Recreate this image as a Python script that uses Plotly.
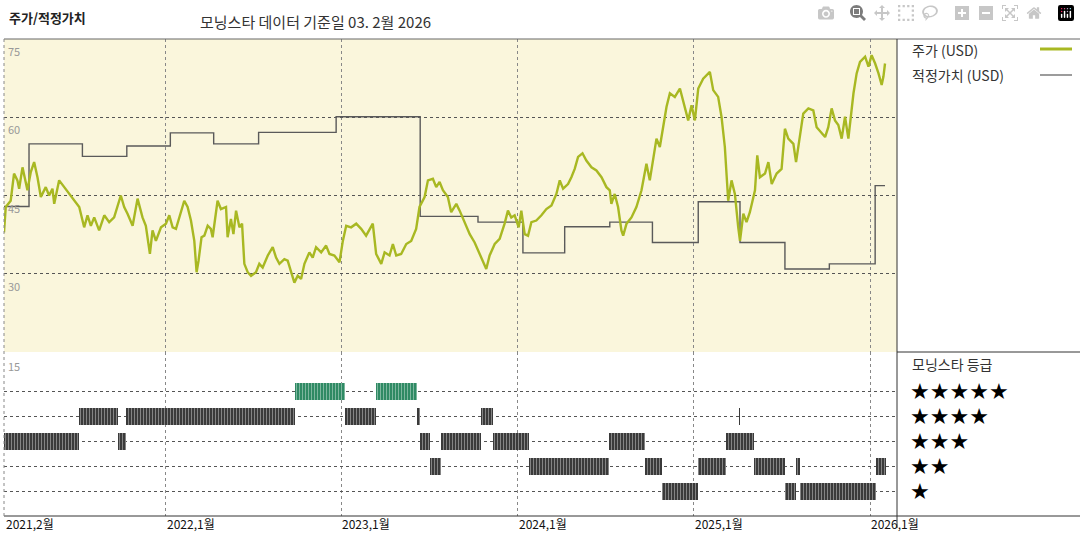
import plotly.graph_objects as go

# ---- data ----
price_t = [2021.085,2021.095,2021.123,2021.142,2021.161,2021.171,2021.190,2021.208,2021.218,2021.237,2021.256,2021.275,2021.294,2021.322,2021.341,2021.360,2021.370,2021.398,2021.426,2021.464,2021.512,2021.540,2021.559,2021.578,2021.597,2021.625,2021.654,2021.682,2021.710,2021.748,2021.767,2021.786,2021.815,2021.843,2021.871,2021.890,2021.913,2021.928,2021.947,2021.976,2022.004,2022.023,2022.042,2022.061,2022.089,2022.108,2022.127,2022.146,2022.165,2022.178,2022.189,2022.206,2022.222,2022.241,2022.259,2022.269,2022.297,2022.316,2022.345,
 2022.354,2022.373,2022.387,2022.402,2022.421,2022.436,2022.449,2022.468,2022.487,2022.515,2022.534,2022.553,2022.582,2022.610,2022.629,2022.648,2022.676,2022.695,2022.714,2022.733,2022.752,2022.771,2022.790,2022.818,2022.837,2022.856,2022.885,2022.913,2022.932,2022.960,2022.989,2023.008,2023.027,2023.055,2023.084,2023.112,2023.140,2023.178,2023.197,2023.226,2023.245,2023.273,2023.292,2023.311,2023.339,2023.368,2023.396,2023.424,2023.443,2023.472,2023.491,2023.519,2023.538,2023.557,2023.576,2023.604,
 2023.623,2023.652,2023.671,2023.699,2023.728,2023.756,2023.784,2023.813,2023.822,2023.841,2023.870,2023.898,2023.926,2023.945,2023.964,2023.983,2024.006,2024.021,2024.040,2024.059,2024.078,2024.106,2024.135,2024.163,2024.192,2024.220,2024.239,2024.258,2024.286,2024.305,2024.324,2024.343,2024.368,2024.390,2024.419,2024.447,2024.476,2024.504,2024.523,2024.532,2024.551,2024.570,2024.589,2024.599,2024.618,2024.646,2024.674,2024.703,2024.731,2024.750,2024.769,2024.788,2024.807,2024.826,2024.845,
 2024.864,2024.892,2024.921,2024.949,2024.968,2024.987,2025.006,2025.025,2025.053,2025.091,2025.110,2025.138,2025.157,2025.176,2025.195,2025.214,2025.233,2025.252,2025.262,2025.281,2025.299,2025.318,2025.347,2025.360,2025.375,2025.404,2025.423,2025.442,2025.470,2025.498,2025.517,2025.536,2025.565,2025.580,2025.603,2025.621,2025.650,2025.678,2025.697,2025.726,2025.745,2025.763,2025.782,2025.801,2025.820,2025.839,2025.858,2025.877,2025.890,2025.906,2025.924,2025.943,2025.972,2025.991,2026.009,2026.029,2026.048,2026.066,2026.076,2026.085]
price_v = [37.9,42.8,44.0,49.2,47.9,46.3,50.4,47.9,46.0,49.5,51.4,48.5,44.7,46.6,45.0,46.3,43.4,47.9,46.6,45.0,42.8,38.9,41.2,39.2,40.8,38.3,41.2,39.9,40.8,45.0,42.8,41.5,39.2,44.4,40.8,39.2,33.8,38.3,36.3,38.9,39.6,41.2,38.9,38.6,42.1,44.0,42.8,40.2,36.3,30.3,32.5,37.0,37.3,39.2,38.6,37.0,44.0,42.4,42.8,
 37.0,40.5,37.6,42.1,38.9,39.6,31.9,30.3,29.6,30.3,31.9,31.2,33.5,35.1,33.1,31.9,32.8,32.5,30.6,28.3,29.6,29.0,31.9,34.1,33.1,35.1,34.1,35.4,33.8,33.5,32.2,36.3,39.2,38.9,39.6,38.6,37.3,39.6,33.8,31.9,34.1,33.5,35.7,33.5,33.8,35.7,36.3,38.6,42.8,44.7,47.9,48.2,46.6,47.6,46.0,44.7,
 41.8,43.4,42.1,39.9,37.6,36.0,33.8,31.5,30.9,33.5,35.7,36.7,39.6,42.1,40.8,41.2,38.9,42.1,37.6,37.3,39.9,40.2,41.2,42.4,43.1,45.3,47.9,46.3,47.2,48.5,50.1,52.4,53.1,51.7,50.4,49.8,48.5,46.6,46.0,43.4,45.3,42.8,38.3,37.3,39.6,40.8,42.8,46.0,51.1,47.9,51.7,55.9,54.3,58.1,62.0,
 64.6,63.9,65.5,62.0,59.4,62.3,59.4,65.5,67.4,68.7,65.2,63.9,60.1,54.3,44.0,47.9,45.3,38.9,36.3,41.5,39.9,41.8,46.0,52.7,48.5,49.2,51.4,47.2,49.2,50.1,57.8,55.9,54.9,51.4,56.9,60.7,61.7,61.3,58.1,56.9,56.2,58.1,61.7,59.4,58.5,55.9,60.1,55.9,60.1,64.6,68.4,70.6,71.6,69.7,71.9,70.3,68.4,66.2,67.8,70.3]

fair_t = [2021.085,2021.227,2021.530,2021.782,2022.029,2022.275,2022.530,2022.970,2023.447,2023.775,2024.030,2024.267,2024.523,2024.765,2025.025,2025.262,2025.517,2025.769,2026.029,2026.085]
fair_v = [42.9,54.9,52.5,54.5,57.0,54.9,57.1,60.1,41.0,39.9,34.0,39.0,39.9,36.0,43.8,36.0,30.9,31.9,46.9,46.9]

rate_start = [2021.085,2021.509,2021.732,2021.779,2022.736,2023.021,2023.195,2023.428,2023.448,2023.500,2023.563,2023.792,2023.862,2024.062,2024.519,2024.720,2024.818,2025.025,2025.182,2025.258,2025.342,2025.518,2025.577,2025.602,2026.032]
rate_end   = [2021.509,2021.732,2021.777,2022.736,2023.021,2023.195,2023.428,2023.448,2023.500,2023.563,2023.792,2023.862,2024.062,2024.519,2024.720,2024.818,2025.025,2025.182,2025.342,2025.262,2025.518,2025.577,2025.602,2026.032,2026.091]
rate_star  = [3,4,3,4,5,4,5,4,3,2,3,4,3,2,3,2,1,2,3,4,2,1,2,1,2]

year_ticks = [2021.085, 2022, 2023, 2024, 2025, 2026]
year_labels = ["2021,2월", "2022,1월", "2023,1월", "2024,1월", "2025,1월", "2026,1월"]
price_ticks = [75, 60, 45, 30]

FONT = "Noto Sans CJK KR"
fig = go.Figure()

fig.add_trace(go.Scatter(x=fair_t, y=fair_v, mode="lines", line=dict(color="#5a5a5a", width=1.4, shape="hv"),
                         xaxis="x2", yaxis="y", hoverinfo="skip"))
fig.add_trace(go.Scatter(x=price_t, y=price_v, mode="lines", line=dict(color="#a8b822", width=2.4),
                         xaxis="x2", yaxis="y", hoverinfo="skip"))

widths = [e - s for s, e in zip(rate_start, rate_end)]
colors = ["#2f8a64" if r == 5 else "#3a3a3a" for r in rate_star]
fig.add_trace(go.Bar(orientation="h", base=rate_start, x=widths, y=rate_star, width=0.68,
                     marker=dict(color=colors, line=dict(width=0),
                                 pattern=dict(shape="|", fgcolor="#9a9a9a", size=3, solidity=0.25)),
                     xaxis="x", yaxis="y2", hoverinfo="skip"))

L, R, T, B = 4, 897, 39, 516
W, H = 1080, 540
def px(x): return (x - L) / (R - L)
def py(y): return (B - y) / (B - T)
split = py(352)

xr = [2021.085, 2026.153]
grid = dict(showgrid=True, gridcolor="#888", griddash="dot", gridwidth=1, tickvals=year_ticks[1:],
            showticklabels=False, zeroline=False, range=xr, ticks="")
fig.update_layout(
    width=W, height=H, margin=dict(l=L, r=W - R, t=T, b=H - B),
    plot_bgcolor="white", paper_bgcolor="white", showlegend=False, bargap=0,
    xaxis=dict(anchor="y2", **grid),
    xaxis2=dict(anchor="y", matches="x", **grid),
    yaxis=dict(domain=[split, 1], range=[15, 75], tickvals=price_ticks, showticklabels=False,
               gridcolor="#555", griddash="dot", zeroline=False),
    yaxis2=dict(domain=[0, split], range=[0, 6.6], tickvals=[1, 2, 3, 4, 5], showticklabels=False,
                gridcolor="#555", griddash="dot", zeroline=False),
)

shapes = [
    dict(type="rect", xref="x2 domain", yref="y domain", x0=0, x1=1, y0=0, y1=1,
         fillcolor="#faf6dc", line=dict(width=0), layer="below"),
    dict(type="line", xref="paper", yref="paper", x0=0, x1=px(1080), y0=1, y1=1, line=dict(color="#666", width=1)),
    dict(type="line", xref="paper", yref="paper", x0=0, x1=px(1080), y0=0, y1=0, line=dict(color="#333", width=1)),
    dict(type="line", xref="paper", yref="paper", x0=1, x1=1, y0=py(528), y1=1, line=dict(color="#333", width=1)),
    dict(type="line", xref="paper", yref="paper", x0=1, x1=px(1080), y0=split, y1=split, line=dict(color="#333", width=1)),
    dict(type="line", xref="paper", yref="paper", x0=0, x1=0, y0=0, y1=1, line=dict(color="#888", width=1, dash="dot")),
    dict(type="line", xref="paper", yref="paper", x0=px(1040), x1=px(1072), y0=py(49), y1=py(49), line=dict(color="#a8b822", width=3)),
    dict(type="line", xref="paper", yref="paper", x0=px(1040), x1=px(1072), y0=py(75), y1=py(75), line=dict(color="#666", width=1.3)),
]
fig.update_layout(shapes=shapes)

ann = [
    dict(text="<b>주가/적정가치</b>", x=px(7), y=py(17), xanchor="left", yanchor="middle", font=dict(size=13, color="#222")),
    dict(text="모닝스타 데이터 기준일 03. 2월 2026", x=px(198), y=py(21), xanchor="left", yanchor="middle", font=dict(size=15, color="#333")),
    dict(text="주가 (USD)", x=px(910), y=py(50), xanchor="left", yanchor="middle", font=dict(size=14, color="#333")),
    dict(text="적정가치 (USD)", x=px(910), y=py(75), xanchor="left", yanchor="middle", font=dict(size=14, color="#333")),
    dict(text="모닝스타 등급", x=px(910), y=py(364), xanchor="left", yanchor="middle", font=dict(size=14, color="#333")),
    dict(text="15", x=px(6), y=py(366), xanchor="left", yanchor="middle", font=dict(size=11, color="#999")),
]
for v in price_ticks:
    ann.append(dict(text=str(v), xref="paper", yref="y", x=px(6), y=v, yshift=-2, xanchor="left", yanchor="top",
                    font=dict(size=11, color="#999")))
for n in range(5, 0, -1):
    ann.append(dict(text="★" * n, xref="paper", yref="y2", x=px(908), y=n, xanchor="left", yanchor="middle",
                    font=dict(size=22, color="#000", family="DejaVu Sans")))
for t, lab in zip(year_ticks, year_labels):
    ann.append(dict(text=lab, xref="x", yref="paper", x=t, y=py(523), xanchor="left", yanchor="middle",
                    xshift=-1 if t > 2022 else 0, font=dict(size=12, color="#111")))
for a in ann:
    a.setdefault("xref", "paper"); a.setdefault("yref", "paper"); a["showarrow"] = False
    a["font"].setdefault("family", FONT)
fig.update_layout(annotations=ann, font=dict(family=FONT))

fig.write_html("out.html", post_script="document.body.style.margin='0';document.body.style.padding='0';")
